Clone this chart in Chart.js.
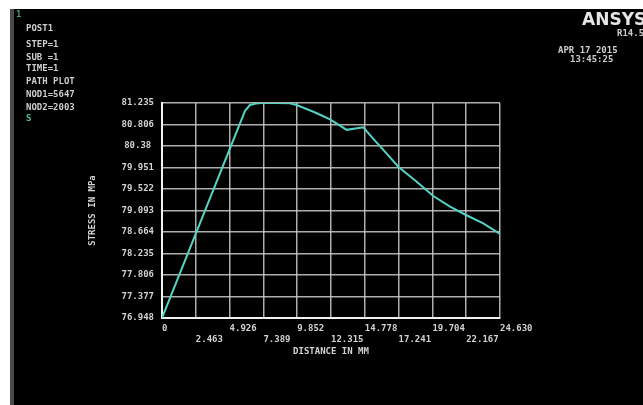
<!DOCTYPE html>
<html>
<head>
<meta charset="utf-8">
<title>PATH PLOT</title>
<script src="https://cdn.jsdelivr.net/npm/chart.js@4.4.0/dist/chart.umd.min.js"></script>
<style>
body{margin:0;background:#fff;}
#pantalla{position:absolute;left:10px;top:9px;width:633px;height:396px;background:#000;}
#borde{position:absolute;left:10px;top:9px;width:4px;height:396px;background:#4a4a4a;}
.txt{position:absolute;font-family:"DejaVu Sans Mono",monospace;font-size:9px;font-weight:bold;color:#cdcdcd;white-space:pre;line-height:10px;}
#logo{position:absolute;left:582px;top:9px;font-family:"DejaVu Sans",sans-serif;font-size:17px;font-weight:bold;color:#e6e6e6;white-space:pre;}
#grafica{position:absolute;left:0;top:0;}
</style>
</head>
<body>
<div id="pantalla"></div>
<div id="borde"></div>
<canvas id="grafica" width="643" height="405"></canvas>

<div class="txt" style="left:16px;top:9px;color:#4f9a7c;">1</div>
<div class="txt" style="left:26px;top:23px;">POST1</div>
<div class="txt" style="left:26px;top:39px;">STEP=1</div>
<div class="txt" style="left:26px;top:52px;">SUB =1</div>
<div class="txt" style="left:26px;top:63px;">TIME=1</div>
<div class="txt" style="left:26px;top:76px;">PATH PLOT</div>
<div class="txt" style="left:26px;top:89px;">NOD1=5647</div>
<div class="txt" style="left:26px;top:102px;">NOD2=2003</div>
<div class="txt" style="left:26px;top:113px;color:#4fbf9a;">S</div>

<div id="logo">ANSYS</div>
<div class="txt" style="left:617px;top:28px;">R14.5</div>
<div class="txt" style="left:558px;top:45px;">APR 17 2015</div>
<div class="txt" style="left:570px;top:54px;">13:45:25</div>

<script>
// path plot: stress along the path
var distancia = [0, 6.05, 6.41, 6.85, 7.26, 8.3, 9.33, 9.81, 10.4, 11.03, 11.6, 12.24, 13.46, 14.67, 15.4, 16.13, 17.22, 18.56, 19.77, 20.99, 22.15, 23.41, 24.63];
var esfuerzo = [76.948, 81.08, 81.195, 81.225, 81.235, 81.235, 81.228, 81.195, 81.13, 81.06, 80.99, 80.91, 80.70, 80.75, 80.52, 80.30, 79.965, 79.666, 79.381, 79.167, 79.002, 78.836, 78.623];

var ticksX = [0, 2.463, 4.926, 7.389, 9.852, 12.315, 14.778, 17.241, 19.704, 22.167, 24.630];
var etiquetasX = ["0", "2.463", "4.926", "7.389", "9.852", "12.315", "14.778", "17.241", "19.704", "22.167", "24.630"];
var ticksY = [76.948, 77.377, 77.806, 78.235, 78.664, 79.093, 79.522, 79.951, 80.38, 80.806, 81.235];
var etiquetasY = ["76.948", "77.377", "77.806", "78.235", "78.664", "79.093", "79.522", "79.951", "80.38", "80.806", "81.235"];

var fuente = {family: "DejaVu Sans Mono", size: 9, weight: "bold"};

function puntos(){
    var lista = [];
    for (var i = 0; i < distancia.length; i++) {
        lista.push({x: distancia[i], y: esfuerzo[i]});
    }
    return lista;
}

function graficar(){
    var ctx = document.getElementById("grafica");
    var myChart = new Chart(ctx, {
        type: 'line',
        data: {
            datasets: [{
                data: puntos(),
                borderColor: "#55d2c4",
                borderWidth: 2,
                pointRadius: 0,
                tension: 0
            }]
        },
        options: {
            responsive: false,
            animation: false,
            layout: {padding: {left: 10, top: 103, right: 143, bottom: 37}},
            plugins: {legend: {display: false}, tooltip: {enabled: false}},
            scales: {
                x: {
                    type: 'linear',
                    min: 0,
                    max: 24.63,
                    afterBuildTicks: function(escala){
                        escala.ticks = ticksX.map(function(v){ return {value: v}; });
                    },
                    afterFit: function(escala){
                        escala.height = 50;
                        escala.paddingLeft = 0;
                        escala.paddingRight = 0;
                    },
                    grid: {color: "rgba(205,205,205,0.85)", lineWidth: 1.5, drawTicks: false},
                    border: {color: "#f2f2f2", width: 2},
                    ticks: {
                        autoSkip: false,
                        maxRotation: 0,
                        minRotation: 0,
                        align: 'start',
                        padding: 5,
                        color: "#d2d2d2",
                        font: fuente,
                        callback: function(valor, i){
                            return i % 2 == 0 ? [etiquetasX[i], ''] : ['', etiquetasX[i]];
                        }
                    },
                    title: {
                        display: true,
                        text: 'DISTANCE IN MM',
                        color: "#d2d2d2",
                        font: fuente,
                        padding: {top: 0, bottom: 11}
                    }
                },
                y: {
                    min: 76.948,
                    max: 81.235,
                    afterBuildTicks: function(escala){
                        escala.ticks = ticksY.map(function(v){ return {value: v}; });
                    },
                    afterFit: function(escala){
                        escala.width = 152;
                        escala.paddingTop = 0;
                        escala.paddingBottom = 0;
                    },
                    grid: {color: "rgba(205,205,205,0.85)", lineWidth: 1.5, drawTicks: false},
                    border: {color: "#f2f2f2", width: 2},
                    ticks: {
                        autoSkip: false,
                        crossAlign: 'center',
                        padding: 8,
                        color: "#d2d2d2",
                        font: fuente,
                        callback: function(valor, i){
                            return etiquetasY[i];
                        }
                    },
                    title: {
                        display: true,
                        text: 'STRESS IN MPa',
                        color: "#d2d2d2",
                        font: fuente,
                        padding: {top: 77, bottom: 0}
                    }
                }
            }
        }
    });
}

graficar();
</script>
</body>
</html>
